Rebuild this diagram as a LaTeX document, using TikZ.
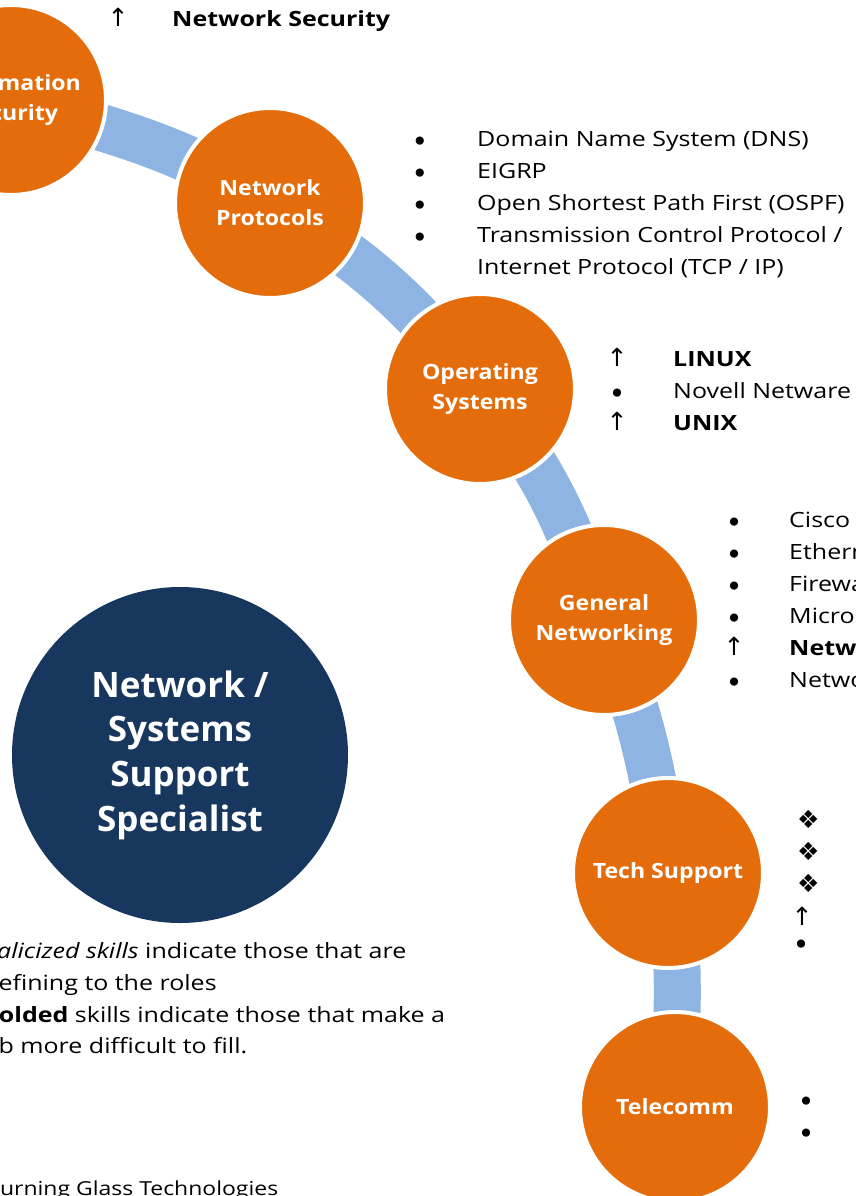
\documentclass[tikz,border=0pt]{standalone}
\usepackage{fontspec}
\setmainfont{Open Sans}
\newfontfamily\listf{Open Sans}[FakeStretch=1.19]
\newfontfamily\stagef{Open Sans}[FakeStretch=1.10]
\newfontfamily\symf{DejaVu Sans}
\definecolor{orng}{RGB}{228,108,10}
\definecolor{bandblue}{RGB}{142,180,227}
\definecolor{navy}{RGB}{23,55,94}
\begin{document}
\begin{tikzpicture}[x=1pt,y=-1pt,
  stage/.style={circle,fill=orng,draw=white,line width=4pt,minimum size=190pt,inner sep=0pt,
    text=white,align=center,font=\stagef\bfseries\fontsize{21}{30}\selectfont},
  core/.style={circle,fill=navy,minimum size=336pt,inner sep=0pt,text=white,align=center,
    font=\bfseries\fontsize{35}{44.7}\selectfont},
  band/.style={draw=bandblue,line width=47pt},
  item/.style={anchor=base west,inner sep=0pt,font=\listf\fontsize{21}{32}\selectfont},
  bitem/.style={item,font=\listf\bfseries\fontsize{21}{32}\selectfont},
  srcitem/.style={item,font=\listf\fontsize{19.3}{32}\selectfont},
  dotmark/.style={anchor=center,inner sep=0pt,yshift=-6pt,font=\symf\fontsize{28}{32}\selectfont},
  upmark/.style={anchor=base,inner sep=0pt,font=\symf\fontsize{25}{32}\selectfont},
  diamark/.style={anchor=west,inner sep=0pt,font=\symf\fontsize{25}{32}\selectfont}
]
\useasboundingbox (0,0) rectangle (855,1196);
\clip (0,0) rectangle (855,1196);
% circle centres
\coordinate (b0) at (-230,45);
\coordinate (cIS) at (11,100);
\coordinate (cNP) at (270,203);
\coordinate (cOS) at (480,389);
\coordinate (cGN) at (604,620);
\coordinate (cTS) at (668,873);
\coordinate (cTC) at (675,1107);
\coordinate (b1) at (665,1340);
% connecting band
\draw[band] plot[smooth,tension=0.75] coordinates {(b0) (cIS) (cNP) (cOS) (cGN) (cTS) (cTC) (b1)};
% stage circles
\node[stage] (is) at (cIS) {Information\\Security};
\node[stage] (np) at (cNP) {Network\\Protocols};
\node[stage] (os) at (cOS) {Operating\\Systems};
\node[stage] (gn) at (cGN) {General\\Networking};
\node[stage] (ts) at (cTS) {Tech Support};
\node[stage] (tc) at (cTC) {Telecomm};
\node[core] (role) at (180,755) {Network /\\Systems\\Support\\Specialist};
% Information Security list
\node[upmark] (is1m) at (118,26.7) {↑};
\node[bitem] (is1) at (172,26.7) {Network Security};
% Network Protocols list
\node[dotmark] (np1m) at (420,138.5) {•};
\node[item] (np1) at (477,146.7) {Domain Name System (DNS)};
\node[dotmark] (np2m) at (420,170.5) {•};
\node[item] (np2) at (477,178.7) {EIGRP};
\node[dotmark] (np3m) at (420,202.5) {•};
\node[item] (np3) at (477,210.7) {Open Shortest Path First (OSPF)};
\node[dotmark] (np4m) at (420,234.5) {•};
\node[item] (np4) at (477,242.7) {Transmission Control Protocol /};
\node[item] (np4b) at (477,274.7) {Internet Protocol (TCP / IP)};
% Operating Systems list
\node[upmark] (os1m) at (617,366.7) {↑};
\node[bitem] (os1) at (673,366.7) {LINUX};
\node[dotmark] (os2m) at (617,390.5) {•};
\node[item] (os2) at (673,398.5) {Novell Netware};
\node[upmark] (os3m) at (617,430.3) {↑};
\node[bitem] (os3) at (673,430.3) {UNIX};
% General Networking list
\node[dotmark] (gn1m) at (734,519.5) {•};
\node[item] (gn1) at (789,527.7) {Cisco};
\node[dotmark] (gn2m) at (734,551.5) {•};
\node[item] (gn2) at (789,559.7) {Ethernet};
\node[dotmark] (gn3m) at (734,583.5) {•};
\node[item] (gn3) at (789,591.7) {Firewalls};
\node[dotmark] (gn4m) at (734,615.5) {•};
\node[item] (gn4) at (789,623.7) {Microsoft};
\node[upmark] (gn5m) at (734,655.7) {↑};
\node[bitem] (gn5) at (789,655.7) {Network};
\node[dotmark] (gn6m) at (734,679.5) {•};
\node[item] (gn6) at (789,687.7) {Network};
% Tech Support list
\node[diamark] (ts1m) at (797,819) {❖};
\node[diamark] (ts2m) at (797,851) {❖};
\node[diamark] (ts3m) at (797,883) {❖};
\node[upmark] (ts4m) at (802,925) {↑};
\node[dotmark] (ts5m) at (801,941) {•};
% Telecomm list
\node[dotmark] (tc1m) at (806,1098) {•};
\node[dotmark] (tc2m) at (806,1130) {•};
% legend
\node[item] (lg1) at (-18,958) {\textit{Italicized skills} indicate those that are};
\node[item] (lg2) at (-17,990) {defining to the roles};
\node[item] (lg3) at (-18,1022) {\textbf{Bolded} skills indicate those that make a};
\node[item] (lg4) at (-23,1053) {job more difficult to fill.};
\node[srcitem] (src) at (-15,1195) {Burning Glass Technologies};
\end{tikzpicture}
\end{document}
